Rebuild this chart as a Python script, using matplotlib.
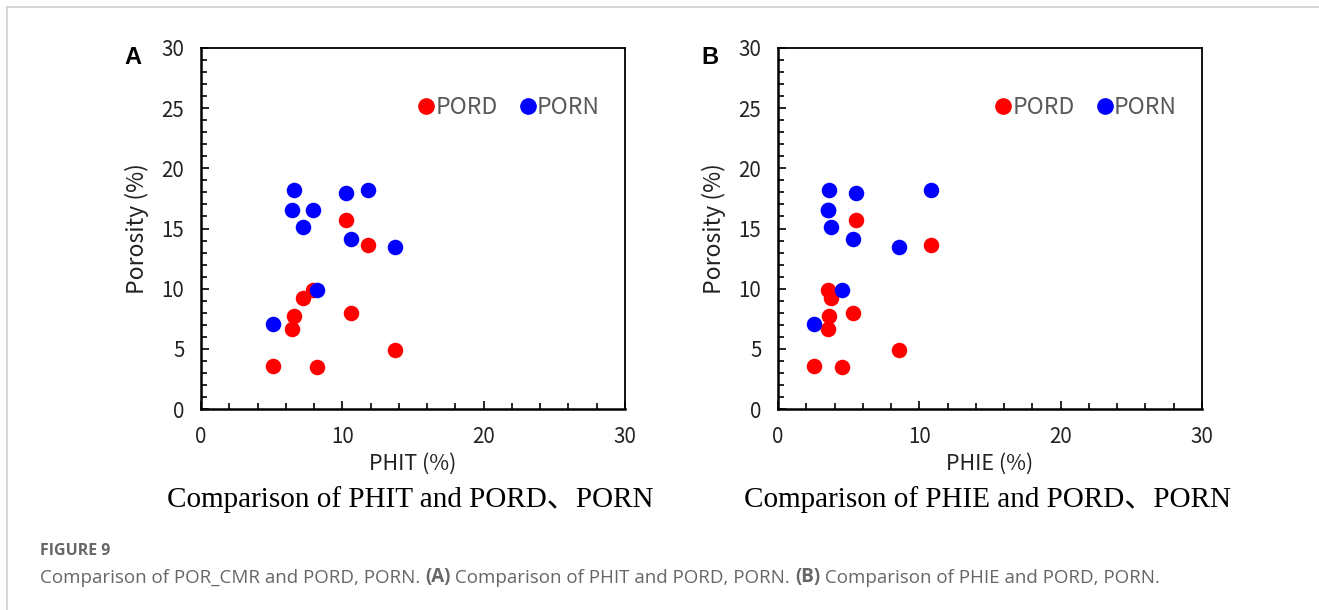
import matplotlib
matplotlib.use("Agg")
import matplotlib.pyplot as plt
from matplotlib.lines import Line2D

# sample values (same 10 samples in both panels)
phit = [5.11, 8.18, 6.42, 6.59, 7.20, 7.95, 10.60, 10.27, 11.83, 13.72]
phie = [2.52, 4.56, 3.55, 3.60, 3.78, 3.55, 5.31, 5.49, 10.85, 8.53]
pord = [3.58, 3.52, 6.65, 7.73, 9.26, 9.90, 7.98, 15.72, 13.61, 4.93]
porn = [7.04, 9.87, 16.50, 18.21, 15.11, 16.55, 14.11, 17.96, 18.21, 13.50]

panels = [
    ("A", phit, "PHIT (%)", "Comparison of PHIT and PORD、PORN"),
    ("B", phie, "PHIE (%)", "Comparison of PHIE and PORD、PORN"),
]

sans = ["Noto Sans CJK SC", "DejaVu Sans"]
serif = ["Liberation Serif", "Noto Sans CJK SC"]

fig = plt.figure(figsize=(13.19, 6.10), dpi=100)
W, H = 1319, 610

lefts = [201, 778]
for (tag, xs, xlabel, caption), left in zip(panels, lefts):
    ax = fig.add_axes([left / W, (H - 409) / H, 424 / W, 361 / H])
    ax.scatter(xs, pord, s=125, color="#FF0000", zorder=3, linewidths=0)
    ax.scatter(xs, porn, s=125, color="#0000FF", zorder=3, linewidths=0)
    ax.set_xlim(0, 30)
    ax.set_ylim(0, 30)
    ax.set_xticks([0, 10, 20, 30])
    ax.set_xticks(range(0, 31, 2), minor=True)
    ax.set_yticks(range(0, 31, 5))
    ax.set_yticks(range(0, 31, 1), minor=True)
    ax.tick_params(which="major", length=6)
    ax.tick_params(which="minor", length=4)
    ax.tick_params(which="both", direction="in", top=False, right=False,
                   width=1.2, labelsize=14.8, pad=12, colors="black")
    for lab in ax.get_xticklabels() + ax.get_yticklabels():
        lab.set_family(sans)
        lab.set_color("#222222")
    for side in ["top", "right"]:
        ax.spines[side].set_linewidth(1.3)
    for side in ["left", "bottom"]:
        ax.spines[side].set_linewidth(1.8)
    ax.set_ylabel("Porosity (%)", fontsize=16.5, family=sans, labelpad=9, color="#222222")
    ax.set_xlabel(xlabel, fontsize=15.5, family=sans, labelpad=4, color="#222222")

    handles = [Line2D([], [], marker="o", ls="none", color="#FF0000", markersize=11),
               Line2D([], [], marker="o", ls="none", color="#0000FF", markersize=11)]
    leg = ax.legend(handles, ["PORD", "PORN"], ncol=2, frameon=False, loc="center",
                    bbox_to_anchor=(0.728, 0.836), handlelength=0.6, handletextpad=0.1,
                    columnspacing=1.0, prop={"family": sans, "size": 16.5})
    for t in leg.get_texts():
        t.set_color("#595959")

    fig.text((left - 68) / W, 1 - 57 / H, tag, fontsize=17, weight="bold",
             family="Liberation Sans", ha="center", va="center")
    fig.text((left + 209) / W, 1 - 500 / H, caption, fontsize=21, family=serif,
             ha="center", va="center")

# page frame lines
fig.add_artist(Line2D([7 / W, 1], [1 - 7 / H, 1 - 7 / H], color="#d0d0d0", lw=1.2))
fig.add_artist(Line2D([7 / W, 7 / W], [0, 1 - 7 / H], color="#d0d0d0", lw=1.2))

gray = "#666666"
fig.text(40 / W, 1 - 551 / H, "FIGURE 9", fontsize=11.5, weight="bold",
         family="Open Sans", color=gray, va="center")

parts = [("Comparison of POR_CMR and PORD, PORN. ", "normal"),
         ("(A)", "bold"),
         (" Comparison of PHIT and PORD, PORN. ", "normal"),
         ("(B)", "bold"),
         (" Comparison of PHIE and PORD, PORN.", "normal")]
prev = fig.text(40 / W, 1 - 583 / H, parts[0][0], fontsize=13.5, family="Open Sans",
                color=gray, va="baseline")
for txt, wt in parts[1:]:
    prev = plt.annotate(txt, xy=(1, 0), xycoords=prev, va="bottom", ha="left",
                        fontsize=13.5, family="Open Sans", color=gray, weight=wt,
                        annotation_clip=False)

fig.savefig("out.png", dpi=100)
